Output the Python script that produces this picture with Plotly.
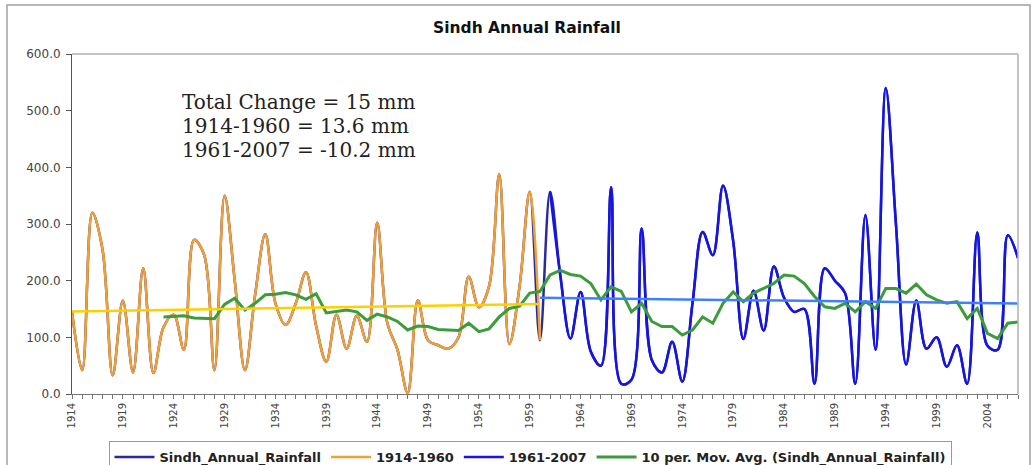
import plotly.graph_objects as go

years = list(range(1914, 2008))

rainfall = [
    145, 42, 320, 255, 33, 165, 38, 222, 37, 118,          # 1914-1923
    140, 78, 272, 245, 42, 350, 200, 42, 175, 282,         # 1924-1933
    160, 122, 160, 215, 120, 57, 140, 80, 138, 92,         # 1934-1943
    302, 125, 78, 2, 165, 95, 86, 80, 100, 207,            # 1944-1953
    153, 190, 388, 88, 190, 357, 95, 357, 210, 98,         # 1954-1963
    180, 75, 50, 365, 18, 25, 292, 60, 38, 92,             # 1964-1973
    22, 160, 286, 245, 368, 270, 97, 182, 112, 225,        # 1974-1983
    170, 145, 150, 18, 222, 200, 178, 18, 316, 78,         # 1984-1993
    540, 300, 52, 165, 80, 100, 48, 86, 18, 285,           # 1994-2003
    85, 78, 280, 240,                                      # 2004-2007
]

mov_avg_years = list(range(1923, 2008))
mov_avg = [
    136, 137, 138, 134, 133, 133, 158, 169, 148, 160,      # 1923-1932
    175, 176, 179, 175, 167, 177, 143, 146, 148, 145,      # 1933-1942
    130, 141, 136, 128, 113, 120, 119, 114, 113, 112,      # 1943-1952
    125, 110, 115, 136, 151, 155, 178, 181, 210, 218,      # 1953-1962
    211, 208, 195, 166, 189, 181, 145, 160, 128, 119,      # 1963-1972
    119, 104, 113, 136, 125, 160, 180, 163, 178, 186,      # 1973-1982
    195, 210, 208, 195, 172, 154, 151, 160, 145, 163,      # 1983-1992
    151, 186, 186, 178, 194, 175, 166, 160, 163, 133,      # 1993-2002
    151, 107, 98, 125, 127,                                # 2003-2007
]

trend1_years = [1914, 1960]
trend1_vals = [145.4, 159.0]
trend2_years = [1960, 2007]
trend2_vals = [170.0, 159.8]

annotation_lines = ["Total Change = 15 mm", "1914-1960 = 13.6 mm", "1961-2007 = -10.2 mm"]
x_tick_labels = [str(y) if (y - 1914) % 5 == 0 else "" for y in years]
y_ticks = [0, 100, 200, 300, 400, 500, 600]

i1960 = years.index(1960)
i1961 = years.index(1961)

# plot area in pixels
L, R, T, B = 72, 1018, 54, 394
W, H = 1034, 465
PW, PH = R - L, B - T


def px_x(x):
    return (x - L) / PW


def px_y(y):
    return (B - y) / PH


SANS = "DejaVu Sans, Verdana, sans-serif"

fig = go.Figure()
fig.add_trace(go.Scatter(x=years, y=rainfall, mode="lines", name="Sindh_Annual_Rainfall",
                         line=dict(color="#2A2A9E", width=2.5, shape="spline", smoothing=1)))
fig.add_trace(go.Scatter(x=years[:i1960 + 1], y=rainfall[:i1960 + 1], mode="lines", name="1914-1960",
                         line=dict(color="#F2A033", width=2.5, shape="spline", smoothing=1)))
fig.add_trace(go.Scatter(x=years[i1961:], y=rainfall[i1961:], mode="lines", name="1961-2007",
                         line=dict(color="#1414E6", width=2.5, shape="spline", smoothing=1)))
fig.add_trace(go.Scatter(x=mov_avg_years, y=mov_avg, mode="lines",
                         name="10 per. Mov. Avg. (Sindh_Annual_Rainfall)",
                         line=dict(color="#3C9C3C", width=3)))
fig.add_trace(go.Scatter(x=trend1_years, y=trend1_vals, mode="lines", showlegend=False,
                         line=dict(color="#FFD000", width=2.5)))
fig.add_trace(go.Scatter(x=trend2_years, y=trend2_vals, mode="lines", showlegend=False,
                         line=dict(color="#3F7FFF", width=2.5)))

fig.update_layout(
    width=W, height=H,
    margin=dict(l=L, r=W - R, t=T, b=H - B, autoexpand=False),
    paper_bgcolor="white", plot_bgcolor="white",
    font=dict(family=SANS, size=11, color="#333333"),
    title=dict(text="<b>Sindh Annual Rainfall</b>", x=527 / W, xanchor="center",
               y=1 - 28 / H, yanchor="middle",
               font=dict(family=SANS, size=15.5, color="#111111")),
    xaxis=dict(range=[1914, 2007], tickmode="array", tickvals=years, ticktext=x_tick_labels,
               tickangle=-90, ticks="outside", ticklen=4, tickcolor="#777777",
               showline=True, linecolor="#777777", linewidth=1, showgrid=False, zeroline=False,
               automargin=False, tickfont=dict(family=SANS, size=10, color="#444444")),
    yaxis=dict(range=[0, 600], tickmode="array", tickvals=y_ticks, tickformat=".1f",
               ticks="outside", ticklen=5, tickcolor="#555555", ticklabelstandoff=3,
               showline=True, linecolor="#555555", linewidth=1, showgrid=False, zeroline=False,
               automargin=False, tickfont=dict(family=SANS, size=12, color="#444444")),
    legend=dict(orientation="h", x=px_x(530), xanchor="center", y=px_y(441), yanchor="top",
                bordercolor="#9A9A9A", borderwidth=1, bgcolor="white",
                font=dict(family=SANS, size=13, color="#222222", weight="bold"),
                itemwidth=40, tracegroupgap=0),
    showlegend=True,
)

# plot-area border (top and right), chart-area border
fig.add_shape(type="line", xref="paper", yref="paper", x0=0, x1=1, y0=1, y1=1,
              line=dict(color="#B0B0B0", width=1.5))
fig.add_shape(type="line", xref="paper", yref="paper", x0=1, x1=1, y0=0, y1=1,
              line=dict(color="#B0B0B0", width=1.5))
fig.add_shape(type="rect", xref="paper", yref="paper", x0=px_x(7), x1=px_x(1030),
              y0=px_y(475), y1=px_y(5), line=dict(color="#A0A0A0", width=1.5), layer="below")

for i, txt in enumerate(annotation_lines):
    fig.add_annotation(text=txt, xref="paper", yref="paper",
                       x=px_x(180), y=px_y(102 + 24 * i), xanchor="left", yanchor="middle",
                       align="left", showarrow=False,
                       font=dict(family="DejaVu Serif, Liberation Serif", size=20, color="#222222"))

fig.write_html("out.html", config={"displayModeBar": False},
               post_script="document.body.style.margin='0';")
